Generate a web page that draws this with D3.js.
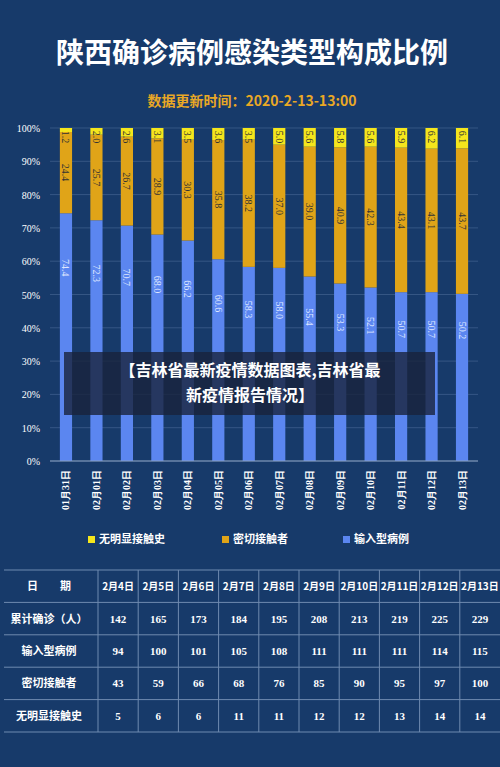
<!DOCTYPE html><html><head><meta charset="utf-8"><script src="https://cdn.jsdelivr.net/npm/d3@7"></script>
<style>body{margin:0;background:#173a6a;}svg{display:block;font-family:"Noto Sans CJK SC",sans-serif}</style></head><body><svg id="c" width="500" height="767"></svg><script>
const dates=["01月31日","02月01日","02月02日","02月03日","02月04日","02月05日","02月06日","02月07日","02月08日","02月09日","02月10日","02月11日","02月12日","02月13日"];
const noContact=[1.2,2.0,2.6,3.1,3.5,3.6,3.5,5.0,5.6,5.8,5.6,5.9,6.2,6.1];
const closeContact=[24.4,25.7,26.7,28.9,30.3,35.8,38.2,37.0,39.0,40.9,42.3,43.4,43.1,43.7];
const imported=[74.4,72.3,70.7,68.0,66.2,60.6,58.3,58.0,55.4,53.3,52.1,50.7,50.7,50.2];
const yTicks=[0,10,20,30,40,50,60,70,80,90,100];
const tDates=["2月4日","2月5日","2月6日","2月7日","2月8日","2月9日","2月10日","2月11日","2月12日","2月13日"];
const tTotal=[142,165,173,184,195,208,213,219,225,229];
const tImported=[94,100,101,105,108,111,111,111,114,115];
const tClose=[43,59,66,68,76,85,90,95,97,100];
const tNone=[5,6,6,11,11,12,12,13,14,14];
const colors={imp:"#5b86f0",close:"#e0a418",none:"#f5e61c"};
const svg=d3.select("#c");
svg.append("text").attr("x",252).attr("y",63).attr("text-anchor","middle").attr("fill","#fff").attr("font-size",28).attr("font-weight","bold").text("陕西确诊病例感染类型构成比例");
svg.append("text").attr("x",252).attr("y",106).attr("text-anchor","middle").attr("fill","#e9a825").attr("font-size",14).attr("font-weight","bold").text("数据更新时间：2020-2-13-13:00");
const x=d3.scaleBand().domain(dates).range([41.6,486.4]).padding(0.6);
const y=d3.scaleLinear().domain([0,100]).range([461,128]);
const g=svg.append("g");
g.selectAll(".gl").data(yTicks).join("line").attr("x1",50).attr("x2",478).attr("y1",d=>y(d)).attr("y2",d=>y(d)).attr("stroke","#3d5d8c").attr("stroke-width",0.8);
g.selectAll(".yl").data(yTicks).join("text").attr("x",40).attr("y",d=>y(d)+4).attr("text-anchor","end").attr("fill","#fff").attr("font-size",10).attr("font-family","Liberation Serif").text(d=>d+"%");
const stack=dates.map((d,i)=>({d,segs:[{v:imported[i],c:colors.imp,b:0},{v:closeContact[i],c:colors.close,b:imported[i]},{v:noContact[i],c:colors.none,b:imported[i]+closeContact[i]}]}));
stack.forEach(s=>{s.segs.forEach(sg=>{const top=Math.min(100,sg.b+sg.v);
g.append("rect").attr("x",x(s.d)).attr("width",x.bandwidth()).attr("y",y(top)).attr("height",y(sg.b)-y(top)).attr("fill",sg.c);
const cy=sg.c===colors.none?y(top)+9:(sg.c===colors.imp?y(sg.b+sg.v)+ (y(0)-y(sg.v))*0.22:(y(sg.b)+y(top))/2);
g.append("text").attr("transform",`translate(${x(s.d)+x.bandwidth()/2},${cy}) rotate(90)`).attr("text-anchor","middle").attr("dy","0.35em").attr("fill",sg.c===colors.imp?"#dfe6ff":"#333").attr("font-size",10).attr("font-family","Liberation Serif").text(sg.v.toFixed(1));});});
g.append("line").attr("x1",50).attr("x2",478).attr("y1",461).attr("y2",461).attr("stroke","#8aa0c0");
g.selectAll(".xl").data(dates).join("text").attr("transform",d=>`translate(${x(d)+x.bandwidth()/2},470) rotate(-90)`).attr("text-anchor","end").attr("dy","0.35em").attr("fill","#fff").attr("font-size",10).attr("font-weight","bold").attr("font-family","Liberation Serif").text(d=>d);
const leg=[["无明显接触史",colors.none,88],["密切接触者",colors.close,222],["输入型病例",colors.imp,343]];
leg.forEach(l=>{svg.append("rect").attr("x",l[2]).attr("y",536).attr("width",7).attr("height",7).attr("fill",l[1]);svg.append("text").attr("x",l[2]+11).attr("y",543).attr("fill","#fff").attr("font-size",11).attr("font-weight","bold").text(l[0]);});
const rows=[["日　　期",tDates],["累计确诊（人）",tTotal],["输入型病例",tImported],["密切接触者",tClose],["无明显接触史",tNone]];
const rowY=d3.scaleBand().domain(d3.range(5)).range([570,732]);
const colX=d3.scaleBand().domain(d3.range(10)).range([98,500]);
rows.forEach((r,i)=>{const yy=rowY(i)+rowY.bandwidth()/2;
svg.append("text").attr("x",49).attr("y",yy+4).attr("text-anchor","middle").attr("fill","#fff").attr("font-size",11).attr("font-weight","bold").text(r[0]);
r[1].forEach((v,j)=>svg.append("text").attr("x",colX(j)+colX.bandwidth()/2).attr("y",yy+4).attr("text-anchor","middle").attr("fill","#fff").attr("font-size",i==0?10:11).attr("font-weight","bold").attr("font-family",i==0?"Noto Sans CJK SC":"Liberation Serif").text(v));});
d3.range(6).forEach(i=>{const yy=i<5?rowY(i):732;svg.append("line").attr("x1",4).attr("x2",500).attr("y1",yy).attr("y2",yy).attr("stroke","#6f8ab0");});
d3.range(10).forEach(j=>svg.append("line").attr("x1",colX(j)).attr("x2",colX(j)).attr("y1",570).attr("y2",732).attr("stroke","#6f8ab0"));
svg.append("rect").attr("x",64).attr("y",352).attr("width",371).attr("height",63).attr("fill","rgba(25,35,60,0.8)");
svg.append("text").attr("x",250).attr("y",376).attr("text-anchor","middle").attr("fill","#fff").attr("font-size",16).attr("font-weight","bold").text("【吉林省最新疫情数据图表,吉林省最");
svg.append("text").attr("x",250).attr("y",401).attr("text-anchor","middle").attr("fill","#fff").attr("font-size",16).attr("font-weight","bold").text("新疫情报告情况】");
</script></body></html>
